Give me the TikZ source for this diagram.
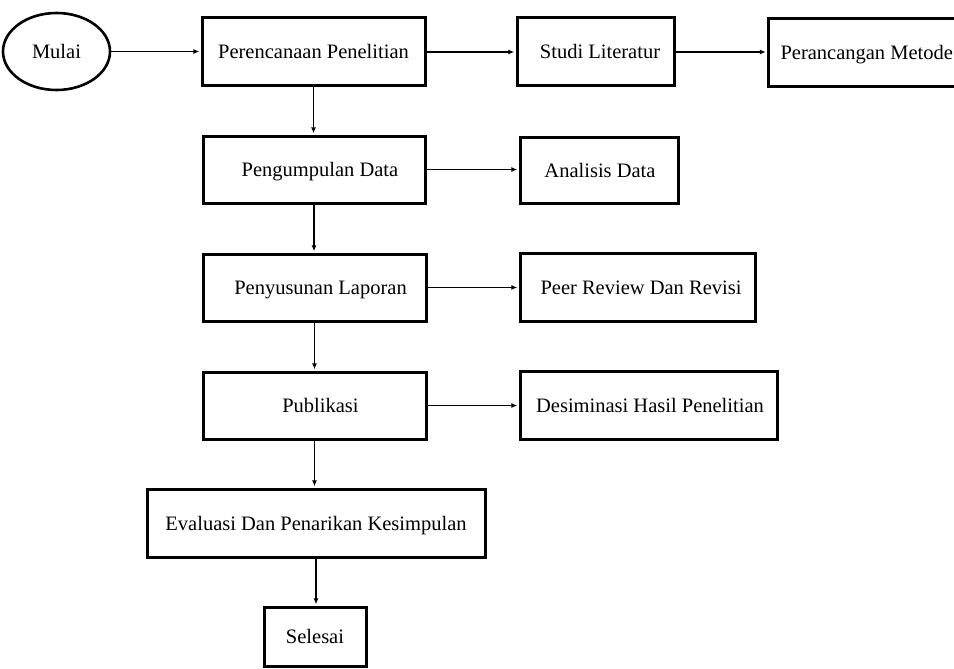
\documentclass[tikz,border=0pt]{standalone}
\usepackage{fontspec}
\setmainfont{Liberation Serif}
\usetikzlibrary{shapes.geometric,arrows.meta}
\begin{document}
\begin{tikzpicture}[x=1pt,y=1pt,
  box/.style={draw, line width=3pt, inner sep=0pt, minimum height=67pt,
    text height=18pt, text depth=4pt,
    font=\fontsize{20.5pt}{24pt}\selectfont},
  oval/.style={draw, ellipse, line width=2.6pt, inner sep=0pt,
    text height=18pt, text depth=4pt,
    font=\fontsize{20.5pt}{24pt}\selectfont},
  arr/.style={line width=1.3pt, -{Latex[length=6pt,width=5pt]}, shorten >=1.2pt}]
\clip (0,0) rectangle (954,-669);
\fill[white] (0,0) rectangle (954,-669);
% nodes
\node[oval, minimum width=107pt, minimum height=77pt] (mulai) at (56.5,-51.5) {Mulai};
\node[box, minimum width=223pt, minimum height=68pt] (ren) at (313.5,-52) {Perencanaan Penelitian};
\node[box, minimum width=157pt, minimum height=68pt] (studi) at (595.5,-52) {\hspace*{9pt}Studi Literatur};
\node[box, minimum height=68pt, anchor=west, inner xsep=12pt] (metode) at (767,-53) {Perancangan Metode\hspace*{20pt}};
\node[box, minimum width=222pt] (kumpul) at (314,-169.5) {\hspace*{12pt}Pengumpulan Data};
\node[box, minimum width=158pt, minimum height=66pt] (analisis) at (599,-170) {\hspace*{2pt}Analisis Data};
\node[box, minimum width=223pt] (susun) at (314.5,-287.5) {\hspace*{12pt}Penyusunan Laporan};
\node[box, minimum width=235pt, minimum height=68pt] (peer) at (637.5,-287) {\hspace*{7pt}Peer Review Dan Revisi};
\node[box, minimum width=223pt] (publik) at (314.5,-405.5) {\hspace*{12pt}Publikasi};
\node[box, minimum width=257pt, minimum height=68pt] (desim) at (648.5,-405) {\hspace*{3pt}Desiminasi Hasil Penelitian};
\node[box, minimum width=338pt, minimum height=68pt] (eval) at (316,-523) {Evaluasi Dan Penarikan Kesimpulan};
\node[box, minimum width=102pt, minimum height=59pt] (selesai) at (315,-636.5) {Selesai};
% connectors
\draw[arr] (mulai.east) -- (mulai.east -| ren.west);
\draw[arr] (ren.east) -- (ren.east -| studi.west);
\draw[arr] (studi.east) -- (studi.east -| metode.west);
\draw[arr] (ren.south) -- (ren.south |- kumpul.north);
\draw[arr] (kumpul.east) -- (kumpul.east -| analisis.west);
\draw[arr] (kumpul.south) -- (kumpul.south |- susun.north);
\draw[arr] (susun.east) -- (susun.east -| peer.west);
\draw[arr] (susun.south) -- (susun.south |- publik.north);
\draw[arr] (publik.east) -- (publik.east -| desim.west);
\draw[arr] (publik.south) -- (publik.south |- eval.north);
\draw[arr] (eval.south) -- (eval.south |- selesai.north);
\end{tikzpicture}
\end{document}
